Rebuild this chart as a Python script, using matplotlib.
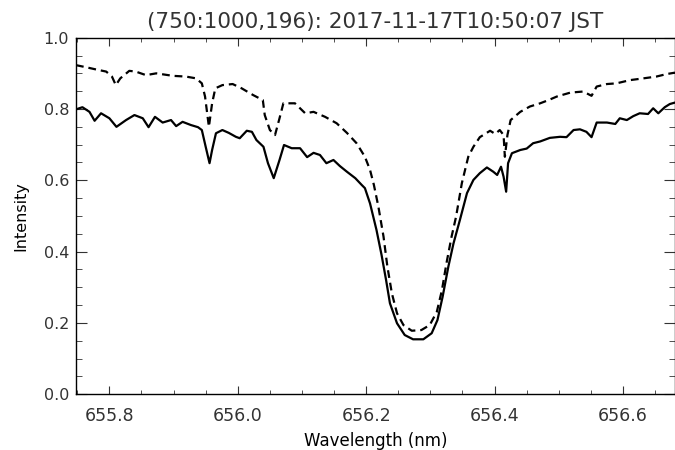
import matplotlib
matplotlib.use("Agg")
import matplotlib.pyplot as plt
from matplotlib.ticker import MultipleLocator

TITLE = "(750:1000,196): 2017-11-17T10:50:07 JST"

# solid profile
WL_SOLID = [
    655.748, 655.758, 655.769, 655.777, 655.787, 655.800, 655.811, 655.826,
    655.839, 655.852, 655.861, 655.871, 655.883, 655.896, 655.904, 655.914,
    655.927, 655.938, 655.944, 655.950, 655.956, 655.960, 655.966, 655.976,
    655.986, 655.997, 656.003, 656.014, 656.022, 656.029, 656.040, 656.047,
    656.056, 656.065, 656.072, 656.084, 656.097, 656.108, 656.118, 656.128,
    656.138, 656.149, 656.159, 656.170, 656.183, 656.193, 656.198, 656.206,
    656.216, 656.224, 656.231, 656.237, 656.248, 656.260, 656.273, 656.289,
    656.302, 656.311, 656.319, 656.328, 656.336, 656.346, 656.357, 656.367,
    656.377, 656.388, 656.398, 656.404, 656.410, 656.414, 656.418, 656.421,
    656.427, 656.440, 656.450, 656.460, 656.471, 656.486, 656.502, 656.512,
    656.523, 656.533, 656.543, 656.551, 656.559, 656.575, 656.588, 656.595,
    656.606, 656.616, 656.626, 656.639, 656.647, 656.655, 656.665, 656.673,
    656.681,
]
I_SOLID = [
    0.799, 0.805, 0.792, 0.767, 0.788, 0.774, 0.750, 0.769,
    0.783, 0.774, 0.749, 0.778, 0.762, 0.769, 0.752, 0.764,
    0.755, 0.749, 0.741, 0.694, 0.648, 0.685, 0.732, 0.741,
    0.733, 0.722, 0.718, 0.739, 0.736, 0.713, 0.694, 0.648,
    0.606, 0.657, 0.699, 0.690, 0.690, 0.665, 0.677, 0.671,
    0.648, 0.657, 0.640, 0.624, 0.606, 0.587, 0.578, 0.535,
    0.461, 0.390, 0.320, 0.255, 0.199, 0.166, 0.154, 0.154,
    0.171, 0.208, 0.273, 0.358, 0.423, 0.489, 0.564, 0.601,
    0.620, 0.636, 0.624, 0.615, 0.638, 0.610, 0.568, 0.648,
    0.676, 0.685, 0.689, 0.704, 0.709, 0.719, 0.722, 0.721,
    0.741, 0.743, 0.736, 0.721, 0.762, 0.762, 0.758, 0.774,
    0.769, 0.780, 0.788, 0.786, 0.802, 0.788, 0.805, 0.814,
    0.818,
]

# dashed profile
WL_DASH = [
    655.748, 655.764, 655.779, 655.795, 655.804, 655.810, 655.817, 655.831,
    655.841, 655.857, 655.873, 655.899, 655.919, 655.935, 655.944, 655.949,
    655.955, 655.960, 655.965, 655.976, 655.992, 656.006, 656.024, 656.039,
    656.042, 656.050, 656.058, 656.065, 656.071, 656.089, 656.105, 656.118,
    656.136, 656.154, 656.170, 656.185, 656.198, 656.206, 656.212, 656.219,
    656.227, 656.233, 656.240, 656.248, 656.258, 656.271, 656.286, 656.299,
    656.310, 656.318, 656.325, 656.333, 656.340, 656.349, 656.359, 656.367,
    656.377, 656.393, 656.401, 656.408, 656.414, 656.416, 656.420, 656.425,
    656.440, 656.455, 656.471, 656.484, 656.497, 656.518, 656.538, 656.551,
    656.559, 656.575, 656.590, 656.611, 656.632, 656.652, 656.668, 656.681,
]
I_DASH = [
    0.923, 0.917, 0.911, 0.905, 0.891, 0.867, 0.886, 0.907,
    0.905, 0.895, 0.900, 0.893, 0.891, 0.886, 0.872, 0.835,
    0.750, 0.816, 0.858, 0.867, 0.870, 0.858, 0.839, 0.825,
    0.783, 0.741, 0.727, 0.774, 0.816, 0.816, 0.788, 0.792,
    0.778, 0.760, 0.733, 0.704, 0.666, 0.629, 0.587, 0.526,
    0.442, 0.358, 0.283, 0.227, 0.194, 0.178, 0.180, 0.194,
    0.231, 0.292, 0.367, 0.442, 0.498, 0.592, 0.666, 0.694,
    0.721, 0.739, 0.730, 0.741, 0.727, 0.666, 0.727, 0.769,
    0.792, 0.807, 0.816, 0.825, 0.835, 0.846, 0.849, 0.837,
    0.863, 0.870, 0.872, 0.881, 0.886, 0.891, 0.898, 0.902,
]

XMIN, XMAX = 655.748, 656.681
YMIN, YMAX = 0.0, 1.0


def main() -> None:
    plt.rcParams.update({
        "font.family": "DejaVu Sans",
        "axes.linewidth": 1.0,
        "text.color": "#333333",
    })

    fig = plt.figure(figsize=(6.75, 4.5), dpi=100, facecolor="white")
    ax = fig.add_axes([76 / 675, 1 - 394.2 / 450, 599 / 675, 356.5 / 450])

    ax.plot(WL_SOLID, I_SOLID, color="black", linewidth=1.6)
    ax.plot(WL_DASH, I_DASH, color="black", linewidth=1.6,
            linestyle=(0, (3.5, 2.2)))

    ax.set_xlim(XMIN, XMAX)
    ax.set_ylim(YMIN, YMAX)
    ax.xaxis.set_major_locator(MultipleLocator(0.2))
    ax.xaxis.set_minor_locator(MultipleLocator(0.05))
    ax.yaxis.set_major_locator(MultipleLocator(0.2))
    ax.yaxis.set_minor_locator(MultipleLocator(0.05))
    ax.xaxis.set_major_formatter(plt.FuncFormatter(lambda v, p: f"{v:.1f}"))
    ax.yaxis.set_major_formatter(plt.FuncFormatter(lambda v, p: f"{v:.1f}"))

    ax.tick_params(axis="both", which="both", direction="in",
                   top=True, right=True, colors="#333333")
    ax.tick_params(axis="x", which="major", length=5.5, pad=9, labelsize=12.5)
    ax.tick_params(axis="x", which="minor", length=3)
    ax.tick_params(axis="y", which="major", length=8, pad=5, labelsize=11.5)
    ax.tick_params(axis="y", which="minor", length=4.3)

    ax.set_title(TITLE, fontsize=15.5, pad=7, color="#333333")
    ax.set_xlabel("Wavelength (nm)", fontsize=12, labelpad=5)
    ax.set_ylabel("Intensity", fontsize=11.5, labelpad=11)

    fig.savefig("out.png", dpi=100, facecolor="white")
    plt.close(fig)


if __name__ == "__main__":
    main()
